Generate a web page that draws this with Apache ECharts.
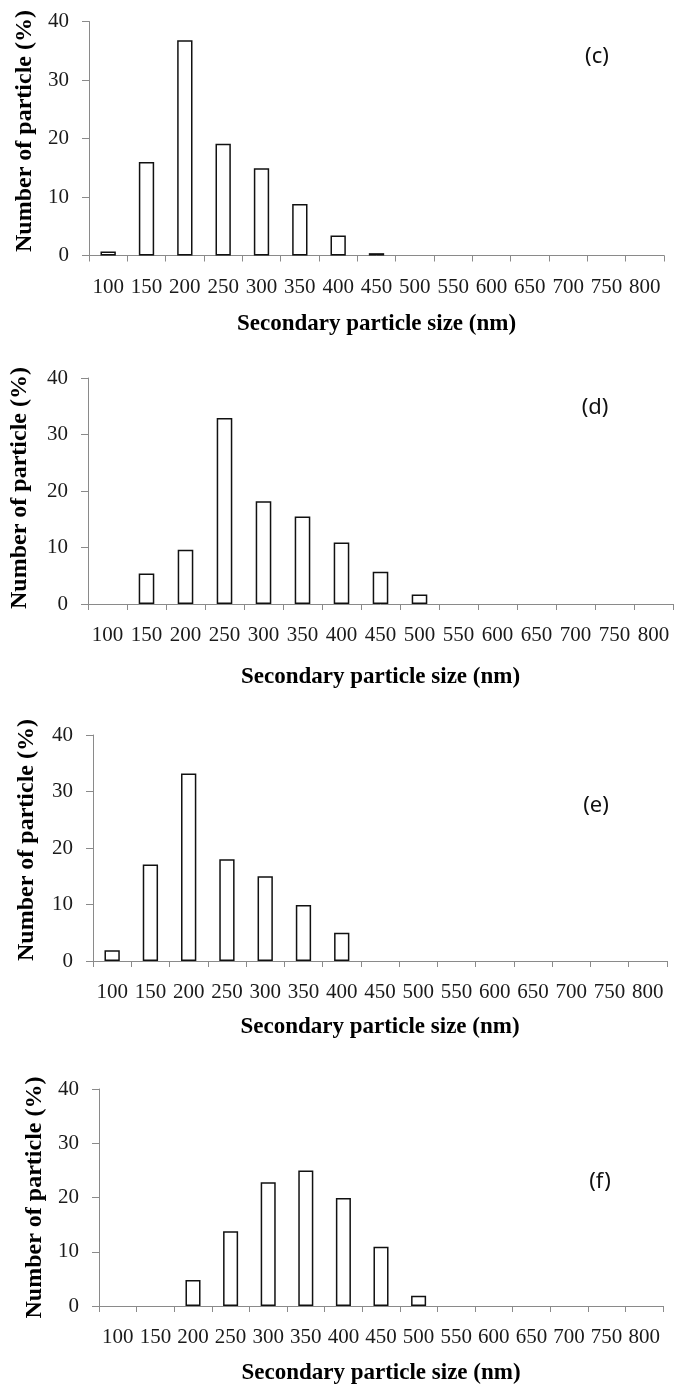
<!DOCTYPE html>
<html>
<head>
<meta charset="utf-8">
<script src="https://cdn.jsdelivr.net/npm/echarts@6/dist/echarts.min.js"></script>
<style>
  html, body { margin: 0; padding: 0; background: #fff; }
  #chart { width: 676px; height: 1387px; }
</style>
</head>
<body>
<div id="chart"></div>
<script>
// ---- data ----
var sizes = ['100','150','200','250','300','350','400','450','500','550','600','650','700','750','800'];
var valuesC = [0.7, 16.0, 36.8, 19.1, 14.9, 8.8, 3.4, 0.4, 0, 0, 0, 0, 0, 0, 0];
var valuesD = [0, 5.4, 9.6, 32.9, 18.2, 15.5, 10.9, 5.7, 1.7, 0, 0, 0, 0, 0, 0];
var valuesE = [1.9, 17.1, 33.2, 18.0, 15.0, 9.9, 5.0, 0, 0, 0, 0, 0, 0, 0, 0];
var valuesF = [0, 0, 4.8, 13.8, 22.8, 25.0, 19.9, 10.9, 1.9, 0, 0, 0, 0, 0, 0];
var panelLabels = ['(c)', '(d)', '(e)', '(f)'];
var xTitle = 'Secondary particle size (nm)';
var yTitle = 'Number of particle (%)';
var yTicks = { min: 0, max: 40, interval: 10 };

// ---- layout ----
var panels = [
  { values: valuesC, grid: { left: 89, top: 21.5, width: 575, height: 234 }, xGap: 57, yGap: 52, yPad: [0,0,0,15], lab: [597, 57] },
  { values: valuesD, grid: { left: 88, top: 378, width: 585, height: 226 }, xGap: 62, yGap: 56, yPad: [0,0,0,6], lab: [595, 408] },
  { values: valuesE, grid: { left: 93, top: 735, width: 574, height: 226 }, xGap: 55, yGap: 54, yPad: [0,0,0,16], lab: [596, 806] },
  { values: valuesF, grid: { left: 99, top: 1089, width: 564, height: 217 }, xGap: 56, yGap: 50, yPad: [0,0,0,0], lab: [600, 1182] }
];

var serif = '"Liberation Serif", "Times New Roman", serif';
var axisGrey = '#8a8a8a';

var option = {
  backgroundColor: '#ffffff',
  animation: false,
  grid: [], xAxis: [], yAxis: [], series: [], graphic: []
};

panels.forEach(function (p, i) {
  option.grid.push(Object.assign({ containLabel: false, outerBoundsMode: 'none' }, p.grid));
  option.xAxis.push({
    type: 'category',
    gridIndex: i,
    data: sizes,
    boundaryGap: true,
    name: xTitle,
    nameLocation: 'middle',
    nameGap: p.xGap,
    nameTextStyle: { fontFamily: serif, fontWeight: 'bold', fontSize: 23, color: '#000' },
    axisLine: { lineStyle: { color: axisGrey, width: 1 } },
    axisTick: { show: true, length: 6, inside: false, lineStyle: { color: axisGrey } },
    axisLabel: { interval: 0, margin: 21, fontFamily: serif, fontSize: 21, color: '#1a1a1a', hideOverlap: false },
    splitLine: { show: false }
  });
  option.yAxis.push({
    type: 'value',
    gridIndex: i,
    min: yTicks.min, max: yTicks.max, interval: yTicks.interval,
    name: yTitle,
    nameLocation: 'middle',
    nameRotate: 90,
    nameGap: p.yGap,
    nameTextStyle: { fontFamily: serif, fontWeight: 'bold', fontSize: 24, color: '#000', padding: p.yPad },
    axisLine: { show: true, lineStyle: { color: axisGrey, width: 1 } },
    axisTick: { show: true, length: 7, lineStyle: { color: axisGrey } },
    axisLabel: { margin: 20, fontFamily: serif, fontSize: 21, color: '#1a1a1a' },
    splitLine: { show: false }
  });
  option.series.push({
    type: 'bar',
    xAxisIndex: i,
    yAxisIndex: i,
    barWidth: '40%',
    data: p.values.map(function (v) { return v === 0 ? null : v; }),
    itemStyle: { color: '#ffffff', borderColor: '#111111', borderWidth: 1.5 }
  });
  option.graphic.push({
    type: 'text',
    x: p.lab[0], y: p.lab[1],
    style: {
      text: panelLabels[i],
      fontFamily: '"Noto Sans", "DejaVu Sans", sans-serif',
      fontSize: 22,
      fill: '#111',
      align: 'center',
      verticalAlign: 'middle'
    }
  });
});

var chart = echarts.init(document.getElementById('chart'), null, { renderer: 'canvas', width: 676, height: 1387 });
chart.setOption(option);
</script>
</body>
</html>
